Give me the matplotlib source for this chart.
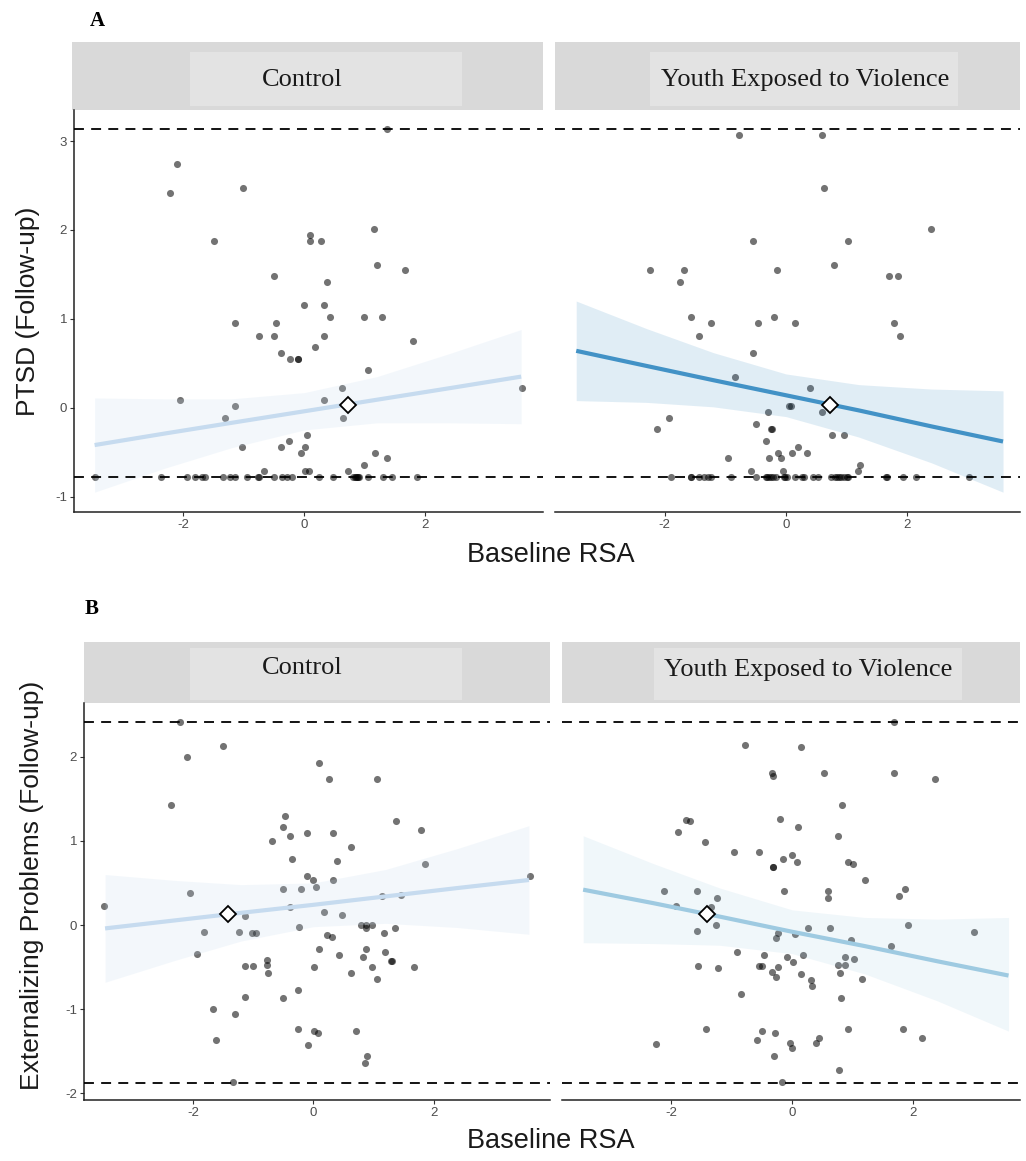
import matplotlib
matplotlib.use("Agg")
import matplotlib.pyplot as plt
from matplotlib.patches import Rectangle

plt.rcParams['font.family'] = ['Liberation Sans', 'DejaVu Sans']
plt.rcParams['axes.unicode_minus'] = False

# ------------------------------
# Data
# ------------------------------
groups = ["Control", "Youth Exposed to Violence"]
x_ticks = [-2, 0, 2]
ptsd_ticks = [-1, 0, 1, 2, 3]
ext_ticks = [-2, -1, 0, 1, 2]

# PTSD, control group
ptsd_ctrl_x = [-2.10, -2.21, -1.01, -1.49, -0.50, 0.00, -1.14, -0.47, -0.75, -0.50, -0.39, -0.24, -0.11, -0.10,
               -2.05, -1.14, -1.30, -1.02, -0.38, -0.25, 0.04, 0.02, -0.06, -0.67, 0.01, 0.08,
               1.37, 1.15, 0.10, 0.09, 0.27, 1.20, 1.67, 0.38, 0.32, 0.43, 0.98, 1.29, 0.33, 0.18, 1.79,
               1.06, 0.62, 0.32, 0.64, 3.59, 1.17, 1.36, 0.98, 0.72,
               -3.46, -2.37, -1.94, -1.81, -1.68, -1.63, -1.34, -1.23, -1.14, -0.95, -0.77, -0.75, -0.50,
               -0.36, -0.29, -0.21, 0.24, 0.48, 0.81, 0.84, 0.85, 0.87, 0.88, 0.90, 1.05, 1.30, 1.45, 1.86]
ptsd_ctrl_y = [2.74, 2.41, 2.47, 1.88, 1.48, 1.15, 0.95, 0.95, 0.81, 0.81, 0.615, 0.55, 0.55, 0.55,
               0.09, 0.02, -0.11, -0.44, -0.44, -0.375, -0.31, -0.44, -0.51, -0.71, -0.71, -0.71,
               3.135, 2.01, 1.94, 1.88, 1.88, 1.61, 1.55, 1.41, 1.15, 1.02, 1.02, 1.02, 0.81, 0.68, 0.75,
               0.42, 0.22, 0.09, -0.11, 0.22, -0.51, -0.57, -0.64, -0.71,
               -0.78, -0.78, -0.78, -0.78, -0.78, -0.78, -0.78, -0.78, -0.78, -0.78, -0.78, -0.78, -0.78,
               -0.78, -0.78, -0.78, -0.78, -0.78, -0.78, -0.78, -0.78, -0.78, -0.78, -0.78, -0.78, -0.78, -0.78, -0.78]

# PTSD, youth exposed to violence
ptsd_yev_x = [-0.78, -0.54, -2.24, -1.69, -1.75, -0.15, -1.56, -1.24, -0.46, -0.20, -1.44, -0.54, -0.84,
              -1.93, -2.12, -0.30, -0.50, -0.24, -0.23, -0.33, -0.13, -0.96, -0.28, -0.08, -0.58, -0.05,
              0.60, 0.62, 2.39, 1.02, 0.80, 1.70, 1.85, 0.15, 1.78, 1.88, 0.40, 0.05, 0.09, 0.60, 0.76,
              0.95, 0.19, 0.10, 0.34, 1.22, 1.18,
              -1.90, -1.57, -1.56, -1.43, -1.35, -1.28, -1.24, -0.91, -0.50, -0.33, -0.31, -0.28, -0.25,
              -0.21, -0.17, -0.03, -0.02, 0.01, 0.15, 0.27, 0.30, 0.44, 0.52, 0.75, 0.81, 0.84, 0.87,
              0.91, 0.95, 1.00, 1.03, 1.65, 1.67, 1.93, 2.15, 3.02]
ptsd_yev_y = [3.07, 1.875, 1.545, 1.545, 1.41, 1.545, 1.02, 0.95, 0.95, 1.02, 0.81, 0.615, 0.35,
              -0.11, -0.24, -0.045, -0.18, -0.24, -0.24, -0.375, -0.51, -0.57, -0.57, -0.57, -0.71, -0.71,
              3.07, 2.47, 2.01, 1.875, 1.61, 1.48, 1.48, 0.95, 0.95, 0.81, 0.22, 0.02, 0.02, -0.045, -0.31,
              -0.31, -0.44, -0.51, -0.51, -0.64, -0.71,
              -0.78, -0.78, -0.78, -0.78, -0.78, -0.78, -0.78, -0.78, -0.78, -0.78, -0.78, -0.78, -0.78,
              -0.78, -0.78, -0.78, -0.78, -0.78, -0.78, -0.78, -0.78, -0.78, -0.78, -0.78, -0.78, -0.78, -0.78,
              -0.78, -0.78, -0.78, -0.78, -0.78, -0.78, -0.78, -0.78, -0.78]

# Externalizing, control group
ext_ctrl_x = [-2.21, -1.50, -2.10, -2.37, -0.47, -0.50, -0.39, -0.68, -0.11, -0.36, -0.11, -0.50, -0.21,
              -0.39, -3.47, -2.05, -1.14, -1.81, -1.23, -1.02, -0.96, -0.24, -1.94, -0.77, -0.77, -1.13,
              -1.01, -0.75, -1.14, -0.50, -0.25, -1.67, -1.30, -1.62, -0.25, -0.09, -1.34,
              0.10, 0.26, 1.06, 1.38, 1.78, 0.32, 0.62, 0.39, 1.85, 0.00, 0.33, 0.04, 3.59, 1.14, 1.45,
              0.18, 0.47, 0.79, 0.87, 0.97, 0.88, 1.17, 1.35, 0.23, 0.31, 0.10, 0.42, 0.88, 0.83, 1.19,
              1.29, 1.30, 0.01, 0.97, 1.67, 0.63, 1.05, 0.01, 0.08, 0.71, 0.89, 0.86]
ext_ctrl_y = [2.415, 2.13, 2.00, 1.42, 1.30, 1.16, 1.06, 1.00, 1.09, 0.79, 0.585, 0.43, 0.43,
              0.21, 0.23, 0.375, 0.11, -0.08, -0.08, -0.09, -0.09, -0.02, -0.345, -0.41, -0.48, -0.49,
              -0.49, -0.57, -0.85, -0.87, -0.77, -1.00, -1.06, -1.36, -1.23, -1.43, -1.87,
              1.92, 1.73, 1.73, 1.23, 1.13, 1.09, 0.93, 0.76, 0.72, 0.53, 0.53, 0.45, 0.58, 0.34, 0.36,
              0.15, 0.12, 0.00, 0.00, 0.00, -0.03, -0.10, -0.03, -0.12, -0.14, -0.29, -0.35, -0.285, -0.38, -0.32,
              -0.43, -0.43, -0.495, -0.495, -0.50, -0.57, -0.64, -1.26, -1.28, -1.26, -1.55, -1.635]

# Externalizing, youth exposed to violence
ext_yev_x = [-0.78, -0.33, -0.31, -1.76, -1.69, -1.89, -0.20, -1.44, -0.96, -0.55, -0.15, -0.01, -0.32,
             -0.31, -0.13, -2.12, -1.57, -1.24, -1.93, -1.35, -1.26, -1.57, -0.27, -0.24, -0.92, -0.46,
             -0.09, 0.01, -0.55, -0.50, -0.24, -0.34, -0.26, -1.56, -1.23, -0.84, -1.42, -0.50, -0.29,
             -0.59, -2.25, -0.03, -0.01, -0.30, -0.17,
             0.15, 0.52, 1.69, 2.37, 1.69, 0.83, 0.09, 0.76, 0.08, 0.93, 1.01, 1.21, 0.59, 0.59, 1.87,
             1.77, 1.91, 3.01, 0.26, 0.62, 0.05, 0.98, 1.64, 0.18, 0.88, 1.02, 0.76, 0.88, 0.14, 0.79,
             0.31, 0.33, 1.16, 0.81, 0.93, 1.84, 2.14, 0.40, 0.44, 0.78]
ext_yev_y = [2.14, 1.80, 1.77, 1.25, 1.23, 1.11, 1.26, 0.99, 0.87, 0.87, 0.78, 0.83, 0.69,
             0.69, 0.41, 0.41, 0.40, 0.32, 0.23, 0.21, 0.00, -0.075, -0.15, -0.10, -0.32, -0.35,
             -0.38, -0.44, -0.49, -0.49, -0.50, -0.56, -0.62, -0.49, -0.51, -0.82, -1.23, -1.26, -1.28,
             -1.36, -1.41, -1.40, -1.46, -1.56, -1.87,
             2.12, 1.80, 1.80, 1.73, 2.415, 1.42, 1.16, 1.06, 0.75, 0.75, 0.72, 0.54, 0.40, 0.32, 0.43,
             0.34, 0.00, -0.08, -0.03, -0.03, -0.11, -0.18, -0.25, -0.35, -0.38, -0.40, -0.48, -0.47, -0.58, -0.57,
             -0.65, -0.72, -0.64, -0.87, -1.23, -1.23, -1.34, -1.40, -1.34, -1.72]

# fitted lines and confidence bands
fit_x = [-3.46, -2.3, -1.2, 0.0, 1.2, 2.4, 3.58]
ptsd_ctrl_fit = [-0.42, -0.29, -0.17, -0.04, 0.09, 0.22, 0.35]
ptsd_ctrl_lo = [-0.95, -0.68, -0.45, -0.25, -0.17, -0.17, -0.18]
ptsd_ctrl_hi = [0.11, 0.10, 0.10, 0.17, 0.35, 0.61, 0.88]
ptsd_yev_fit = [0.64, 0.47, 0.31, 0.14, -0.03, -0.21, -0.38]
ptsd_yev_lo = [0.08, 0.06, 0.01, -0.10, -0.33, -0.62, -0.95]
ptsd_yev_hi = [1.20, 0.89, 0.62, 0.38, 0.26, 0.21, 0.19]
ext_ctrl_fit = [-0.04, 0.055, 0.145, 0.24, 0.34, 0.44, 0.535]
ext_ctrl_lo = [-0.68, -0.42, -0.19, -0.02, 0.02, -0.03, -0.11]
ext_ctrl_hi = [0.60, 0.53, 0.48, 0.50, 0.66, 0.91, 1.18]
ext_yev_fit = [0.42, 0.26, 0.10, -0.08, -0.25, -0.43, -0.60]
ext_yev_lo = [-0.21, -0.22, -0.24, -0.34, -0.58, -0.90, -1.26]
ext_yev_hi = [1.06, 0.73, 0.44, 0.18, 0.09, 0.07, 0.09]

# mean markers and cut-off lines
ptsd_mean = (0.72, 0.03)
ext_mean = (-1.41, 0.13)
ptsd_cutoffs = [3.135, -0.776]
ext_cutoffs = [2.415, -1.873]

# ------------------------------
# Layout helpers (pixel based)
# ------------------------------
W, H = 1026, 1161
fig = plt.figure(figsize=(W / 100, H / 100), dpi=100)


def px_axes(x0, y0, x1, y1):
    return fig.add_axes([x0 / W, 1 - y1 / H, (x1 - x0) / W, (y1 - y0) / H])


def px_rect(x0, y0, x1, y1, color):
    fig.add_artist(Rectangle((x0 / W, 1 - y1 / H), (x1 - x0) / W, (y1 - y0) / H,
                             transform=fig.transFigure, facecolor=color, edgecolor='none', zorder=0))


def px_text(x, y, s, **kw):
    fig.text(x / W, 1 - y / H, s, **kw)


def draw_panel(ax, px, py, fx, lo, hi, fy, line_col, band_alpha, mean, cutoffs, yticks, first):
    ax.scatter(px, py, s=26, color='black', alpha=0.55, linewidths=0, zorder=2)
    ax.fill_between(fx, lo, hi, color=line_col, alpha=band_alpha, linewidth=0, zorder=3)
    ax.plot(fx, fy, color=line_col, lw=3.0, solid_capstyle='butt', zorder=4)
    for c in cutoffs:
        ax.axhline(c, color='black', lw=1.3, dashes=(5.5, 4), zorder=5)
    ax.plot(*mean, marker='D', ms=8, mfc='white', mec='black', mew=1.3, zorder=6)
    ax.set_xticks(x_ticks)
    ax.set_yticks(yticks)
    for s in ['top', 'right']:
        ax.spines[s].set_visible(False)
    ax.spines['bottom'].set_color('#222222')
    ax.spines['bottom'].set_linewidth(1.1)
    ax.tick_params(axis='both', length=3, width=0.8, color='#333333', labelsize=9.5,
                   labelcolor='#4d4d4d', pad=2)
    if first:
        ax.spines['left'].set_color('#222222')
        ax.spines['left'].set_linewidth(1.1)
    else:
        ax.spines['left'].set_visible(False)
        ax.tick_params(axis='y', left=False, labelleft=False)


# ------------------------------
# Panel A: PTSD
# ------------------------------
axA1 = px_axes(74, 110, 543, 512)
axA1.set_xlim(-3.80, 3.94)
axA1.set_ylim(-1.173, 3.349)
draw_panel(axA1, ptsd_ctrl_x, ptsd_ctrl_y, fit_x, ptsd_ctrl_lo, ptsd_ctrl_hi, ptsd_ctrl_fit,
           '#c6dbef', 0.2, ptsd_mean, ptsd_cutoffs, ptsd_ticks, True)

axA2 = px_axes(555, 110, 1020, 512)
axA2.set_xlim(-3.81, 3.86)
axA2.set_ylim(-1.173, 3.349)
draw_panel(axA2, ptsd_yev_x, ptsd_yev_y, fit_x, ptsd_yev_lo, ptsd_yev_hi, ptsd_yev_fit,
           '#4292c6', 0.16, ptsd_mean, ptsd_cutoffs, ptsd_ticks, False)

# ------------------------------
# Panel B: Externalizing problems
# ------------------------------
axB1 = px_axes(84, 703, 550, 1100)
axB1.set_xlim(-3.81, 3.93)
axB1.set_ylim(-2.078, 2.637)
draw_panel(axB1, ext_ctrl_x, ext_ctrl_y, fit_x, ext_ctrl_lo, ext_ctrl_hi, ext_ctrl_fit,
           '#c6dbef', 0.2, ext_mean, ext_cutoffs, ext_ticks, True)

axB2 = px_axes(562, 703, 1020, 1100)
axB2.set_xlim(-3.81, 3.77)
axB2.set_ylim(-2.078, 2.637)
draw_panel(axB2, ext_yev_x, ext_yev_y, fit_x, ext_yev_lo, ext_yev_hi, ext_yev_fit,
           '#9ecae1', 0.15, ext_mean, ext_cutoffs, ext_ticks, False)

# ------------------------------
# Facet strips
# ------------------------------
strip_grey, inner_grey = '#d9d9d9', '#e3e3e3'
px_rect(72, 42, 543, 110, strip_grey)
px_rect(555, 42, 1020, 110, strip_grey)
px_rect(190, 52, 462, 106, inner_grey)
px_rect(650, 52, 958, 106, inner_grey)
px_rect(84, 642, 550, 703, strip_grey)
px_rect(562, 642, 1020, 703, strip_grey)
px_rect(190, 648, 462, 700, inner_grey)
px_rect(654, 648, 962, 700, inner_grey)

serif = ['Liberation Serif', 'DejaVu Serif']
px_text(302, 80, groups[0], family=serif, fontsize=19, ha='center', va='center', color='#1a1a1a')
px_text(805, 80, groups[1], family=serif, fontsize=19, ha='center', va='center', color='#1a1a1a')
px_text(302, 668, groups[0], family=serif, fontsize=19, ha='center', va='center', color='#1a1a1a')
px_text(808, 670, groups[1], family=serif, fontsize=19, ha='center', va='center', color='#1a1a1a')

px_text(97, 21, 'A', family=serif, fontsize=15, fontweight='bold', ha='center', va='center')
px_text(92, 609, 'B', family=serif, fontsize=15, fontweight='bold', ha='center', va='center')

# ------------------------------
# Axis titles
# ------------------------------
px_text(551, 555, 'Baseline RSA', fontsize=19.5, ha='center', va='center', color='#1a1a1a')
px_text(551, 1141, 'Baseline RSA', fontsize=19.5, ha='center', va='center', color='#1a1a1a')
px_text(28, 311, 'PTSD (Follow-up)', fontsize=19, rotation=90, ha='center', va='center', color='#1a1a1a')
px_text(32, 885, 'Externalizing Problems (Follow-up)', fontsize=19, rotation=90,
        ha='center', va='center', color='#1a1a1a')

fig.savefig('out.png', dpi=100)
